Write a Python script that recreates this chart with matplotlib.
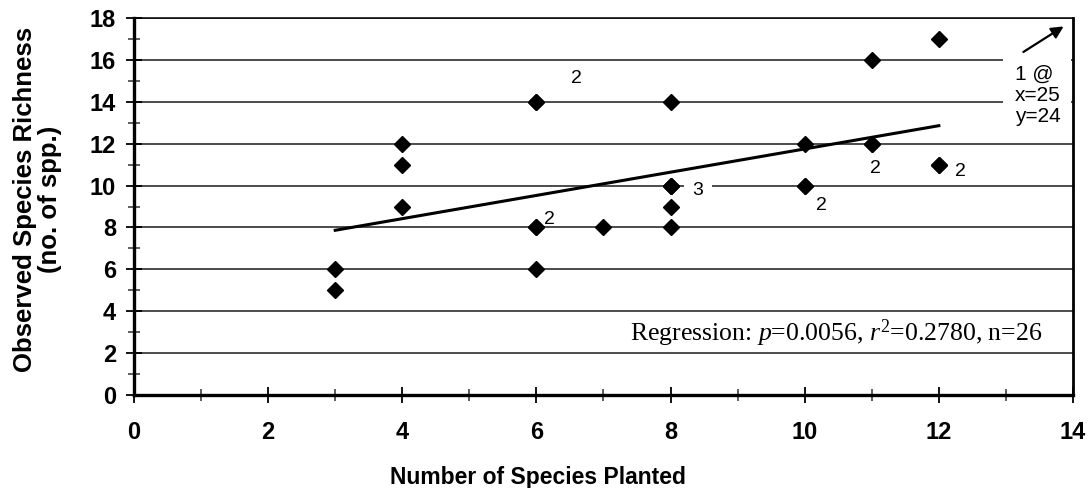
import matplotlib
matplotlib.use("Agg")
import matplotlib.pyplot as plt
from matplotlib.patches import Rectangle
import numpy as np

# Observed richness vs. number of species planted (one entry per plot)
planted = [3, 3, 4, 4, 4, 6, 6, 6, 6, 6, 7, 8, 8, 8, 8, 8, 8,
           10, 10, 10, 11, 11, 11, 12, 12, 12]
observed = [6, 5, 12, 11, 9, 14, 14, 8, 8, 6, 8, 14, 10, 10, 10, 9, 8,
            12, 10, 10, 16, 12, 12, 17, 11, 11]

# Overlap counts written beside stacked points: (text, x, y)
count_labels = [("2", 6.52, 15.1), ("2", 6.12, 8.4), ("3", 8.33, 9.75),
                ("2", 10.17, 9.05), ("2", 10.97, 10.8), ("2", 12.24, 10.65)]

# Fitted regression line
fit_slope = 0.555
fit_intercept = 6.2
fit_x_range = [3, 12]

x_ticks = list(range(0, 15, 2))
y_ticks = list(range(0, 19, 2))

plt.rcParams["font.family"] = ["Liberation Sans", "DejaVu Sans"]
plt.rcParams["mathtext.fontset"] = "custom"
plt.rcParams["mathtext.rm"] = "Liberation Serif"
plt.rcParams["mathtext.it"] = "Liberation Serif:italic"

fig = plt.figure(figsize=(10.92, 4.88), dpi=100)
ax = fig.add_axes([0.1227, 0.1906, 0.8599, 0.7724])

ax.set_xlim(0, 14)
ax.set_ylim(0, 18)

# horizontal gridlines
for yv in y_ticks[1:]:
    ax.axhline(yv, color="#1a1a1a", lw=1.1, zorder=1)

xf = np.array(fit_x_range, dtype=float)
ax.plot(xf, fit_slope * xf + fit_intercept, color="black", lw=2.2, zorder=3)

ax.plot(planted, observed, linestyle="none", marker="D", ms=7.8,
        color="black", zorder=4)

for txt, tx, ty in count_labels:
    bbox = dict(facecolor="white", edgecolor="none", pad=6) if txt == "3" else None
    ax.text(tx, ty, txt, fontsize=14, ha="left", va="center", zorder=2,
            bbox=bbox)

# note for the point outside the plotted range
ax.add_patch(Rectangle((12.96, 12.5), 1.01, 4.5, facecolor="white",
                       edgecolor="none", zorder=1.5))
ax.text(13.13, 14.3, "1 @\nx=25\ny=24", fontsize=15, ha="left", va="center",
        linespacing=1.12, zorder=2)
ax.annotate("", xy=(13.86, 17.6), xytext=(13.26, 16.38),
            arrowprops=dict(arrowstyle="-|>", color="black", lw=1.6,
                            mutation_scale=18, shrinkA=0, shrinkB=0),
            zorder=3)

ax.text(13.55, 2.96, r"Regression: $p$=0.0056, $r^2$=0.2780, n=26",
        fontsize=18.5, ha="right", va="center", family="Liberation Serif",
        zorder=2, bbox=dict(facecolor="white", edgecolor="none", pad=1))

# ticks
ax.set_xticks(x_ticks)
ax.set_xticks(range(0, 15), minor=True)
ax.set_yticks(y_ticks)
ax.set_yticks(range(1, 18, 2), minor=True)
ax.tick_params(which="major", direction="inout", length=12, width=1.3,
               color="black")
ax.tick_params(which="minor", direction="inout", length=9, width=1.1,
               color="#333333")
ax.tick_params(axis="both", which="major", labelsize=17)
ax.tick_params(axis="x", which="major", pad=13)
ax.tick_params(axis="y", which="major", pad=7)
for lab in ax.get_xticklabels() + ax.get_yticklabels():
    lab.set_fontweight("bold")

for side in ["left", "bottom"]:
    ax.spines[side].set_linewidth(2.4)
ax.spines["right"].set_linewidth(2.0)
ax.spines["top"].set_linewidth(1.1)

ax.set_xlabel("Number of Species Planted", fontsize=16.5, fontweight="bold")
ax.xaxis.set_label_coords(0.43, -0.188)
ax.set_ylabel("Observed Species Richness\n(no. of spp.)", fontsize=18.5,
              fontweight="bold", linespacing=1.05)
ax.yaxis.set_label_coords(-0.077, 0.52)

fig.savefig("out.png", dpi=100)
